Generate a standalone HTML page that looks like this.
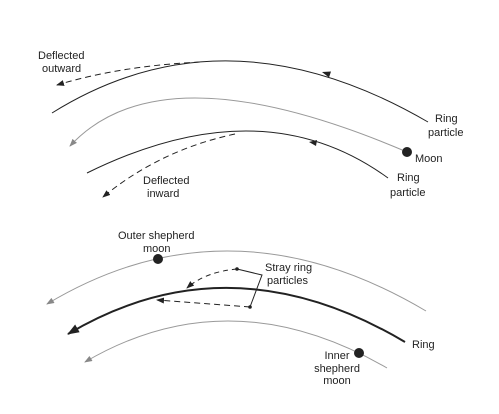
<!DOCTYPE html>
<html><head><meta charset="utf-8"><style>
html,body{margin:0;padding:0;background:#fff}
svg{display:block}
text{font-family:"Liberation Sans",sans-serif;font-size:11px;fill:#222}
</style></head><body>
<svg width="499" height="414" viewBox="0 0 499 414">
<defs>
<marker id="ab" markerWidth="8" markerHeight="6" refX="7" refY="3" orient="auto" markerUnits="userSpaceOnUse"><path d="M0,0 L8,3 L0,6 Z" fill="#222"/></marker>
<marker id="ag" markerWidth="8" markerHeight="6" refX="7" refY="3" orient="auto" markerUnits="userSpaceOnUse"><path d="M0,0 L8,3 L0,6 Z" fill="#888"/></marker>
<marker id="abig" markerWidth="12" markerHeight="9" refX="11" refY="4.5" orient="auto" markerUnits="userSpaceOnUse"><path d="M0,0 L12,4.5 L0,9 Z" fill="#222"/></marker>
</defs>
<path d="M428,122 Q226,4.5 52,113" fill="none" stroke="#222" stroke-width="1"/>
<path d="M322,72 L331,71.5 L329,77.5 Z" fill="#222"/>
<path d="M200,62 Q120,66 57,85" fill="none" stroke="#222" stroke-width="1" stroke-dasharray="6,4" marker-end="url(#ab)"/>
<path d="M407,152 Q161.5,47 70,146" fill="none" stroke="#999" stroke-width="1" marker-end="url(#ag)"/>
<circle cx="407" cy="152" r="5" fill="#222"/>
<path d="M388,178 Q262.5,86.5 87,173" fill="none" stroke="#222" stroke-width="1"/>
<path d="M309,142 L317,140 L316,146 Z" fill="#222"/>
<path d="M235,134 Q160,150 103,197" fill="none" stroke="#222" stroke-width="1" stroke-dasharray="6,4" marker-end="url(#ab)"/>
<text x="38" y="59">Deflected</text>
<text x="42" y="72">outward</text>
<text x="435" y="122">Ring</text>
<text x="428" y="136">particle</text>
<text x="415" y="162">Moon</text>
<text x="397" y="181">Ring</text>
<text x="390" y="196">particle</text>
<text x="143" y="184">Deflected</text>
<text x="147" y="197">inward</text>
<path d="M426,311 Q229.5,194.5 47,304" fill="none" stroke="#999" stroke-width="1" marker-end="url(#ag)"/>
<circle cx="158" cy="259" r="5" fill="#222"/>
<path d="M405,342 Q229.5,238 68,334" fill="none" stroke="#222" stroke-width="2" marker-end="url(#abig)"/>
<path d="M387,368 Q230,277 85,362" fill="none" stroke="#999" stroke-width="1" marker-end="url(#ag)"/>
<circle cx="359" cy="353" r="5" fill="#222"/>
<circle cx="237" cy="269" r="1.8" fill="#222"/>
<circle cx="250" cy="307" r="1.8" fill="#222"/>
<path d="M237,269 Q205,272 187,288" fill="none" stroke="#222" stroke-width="1" stroke-dasharray="5,4" marker-end="url(#ab)"/>
<path d="M250,307 L157,300" fill="none" stroke="#222" stroke-width="1" stroke-dasharray="6,4" marker-end="url(#ab)"/>
<path d="M237,269 L262,275 L250,307" fill="none" stroke="#222" stroke-width="1"/>
<text x="265" y="271">Stray ring</text>
<text x="267" y="284">particles</text>
<text x="118" y="239">Outer shepherd</text>
<text x="143" y="252">moon</text>
<text x="412" y="348">Ring</text>
<text x="337" y="359" text-anchor="middle">Inner</text>
<text x="337" y="372" text-anchor="middle">shepherd</text>
<text x="337" y="384" text-anchor="middle">moon</text>
</svg>
</body></html>
